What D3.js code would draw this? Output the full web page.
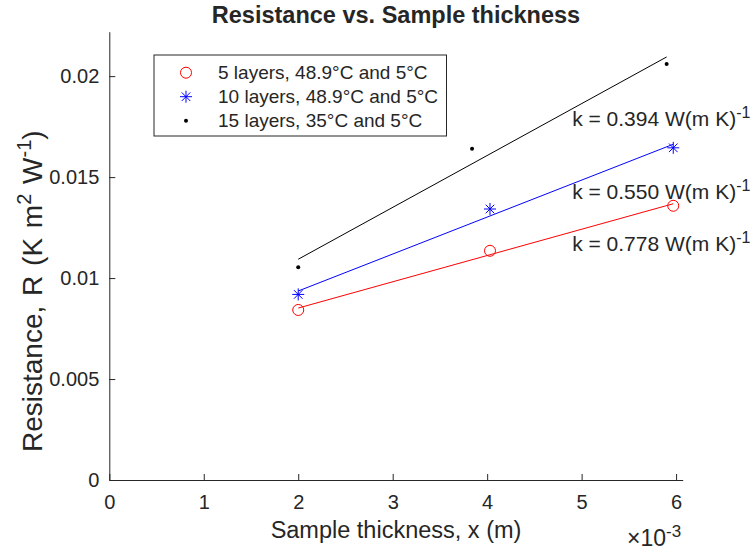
<!DOCTYPE html>
<html>
<head>
<meta charset="utf-8">
<script src="https://cdn.jsdelivr.net/npm/d3@7"></script>
<style>
  body { margin: 0; background: #fff; }
  svg text { font-family: "Liberation Sans", Arial, sans-serif; fill: #262626; }
</style>
</head>
<body>
<div id="visHolder"></div>
<script>
// thickness in m, resistance in K m^2 / W
var seriesNames = ["5 layers, 48.9°C and 5°C", "10 layers, 48.9°C and 5°C", "15 layers, 35°C and 5°C"];
var x5 = [0.00200, 0.00403, 0.00597];
var r5 = [0.00842, 0.01135, 0.01358];
var x10 = [0.00200, 0.00403, 0.00597];
var r10 = [0.00919, 0.01342, 0.01645];
var x15 = [0.00200, 0.00384, 0.00590];
var r15 = [0.01054, 0.01640, 0.02060];
var kLabels = ["0.394", "0.550", "0.778"];
var kLabelX = [0.00490, 0.00490, 0.00490];
var kLabelY = [0.01790, 0.01427, 0.01172];
var xTicks = [0, 0.001, 0.002, 0.003, 0.004, 0.005, 0.006];
var xTickLabels = ["0", "1", "2", "3", "4", "5", "6"];
var yTicks = [0, 0.005, 0.01, 0.015, 0.02];
var yTickLabels = ["0", "0.005", "0.01", "0.015", "0.02"];

var width = 754;
var height = 552;
var plotLeft = 109.3, plotRight = 682.7, plotTop = 31.7, plotBottom = 480;
var axisColor = "#262626";

var svg = d3.select("#visHolder")
  .append("svg")
  .attr("width", width)
  .attr("height", height);

var xScale = d3.scaleLinear().domain([0, 0.00607]).range([plotLeft, plotRight]);
var yScale = d3.scaleLinear().domain([0, 0.0222]).range([plotBottom, plotTop]);

var series = [
  { name: seriesNames[0], xs: x5, ys: r5, color: "#ff0000", marker: "circle" },
  { name: seriesNames[1], xs: x10, ys: r10, color: "#0000ff", marker: "star" },
  { name: seriesNames[2], xs: x15, ys: r15, color: "#000000", marker: "dot" }
];

// least squares fit, like polyfit(x, R, 1)
function fit(xs, ys) {
  var mx = d3.mean(xs), my = d3.mean(ys);
  var sxy = d3.sum(xs, (v, i) => (v - mx) * (ys[i] - my));
  var sxx = d3.sum(xs, v => (v - mx) * (v - mx));
  var m = sxy / sxx;
  return { m: m, b: my - m * mx };
}

function drawMarker(g, type, color, cx, cy) {
  if (type == "circle") {
    g.append("circle").attr("cx", cx).attr("cy", cy).attr("r", 5.5)
      .attr("fill", "none").attr("stroke", color).attr("stroke-width", 1);
  } else if (type == "star") {
    var s = 6, d = 4.3;
    var p = "M" + (cx - s) + "," + cy + "h" + (2 * s) +
      "M" + cx + "," + (cy - s) + "v" + (2 * s) +
      "M" + (cx - d) + "," + (cy - d) + "l" + (2 * d) + "," + (2 * d) +
      "M" + (cx - d) + "," + (cy + d) + "l" + (2 * d) + "," + (-2 * d);
    g.append("path").attr("d", p).attr("stroke", color).attr("stroke-width", 1).attr("fill", "none");
  } else {
    g.append("circle").attr("cx", cx).attr("cy", cy).attr("r", 2).attr("fill", color);
  }
}

// axes
var xAxis = d3.axisBottom(xScale).tickValues(xTicks)
  .tickFormat((d, i) => xTickLabels[i]).tickSizeInner(-6).tickSizeOuter(0).tickPadding(15);
var yAxis = d3.axisLeft(yScale).tickValues(yTicks)
  .tickFormat((d, i) => yTickLabels[i]).tickSizeInner(-6).tickSizeOuter(0).tickPadding(10);

var gx = svg.append("g").attr("transform", "translate(0," + plotBottom + ")").call(xAxis);
var gy = svg.append("g").attr("transform", "translate(" + plotLeft + ",0)").call(yAxis);
[gx, gy].forEach(function (g) {
  g.selectAll("path, line").attr("stroke", axisColor);
  g.selectAll("text").attr("font-size", "20px").attr("fill", axisColor)
    .attr("font-family", "Liberation Sans, Arial, sans-serif");
});

// fit lines and points
series.forEach(function (s) {
  var f = fit(s.xs, s.ys);
  var x0 = d3.min(s.xs), x1 = d3.max(s.xs);
  svg.append("line")
    .attr("x1", xScale(x0)).attr("y1", yScale(f.m * x0 + f.b))
    .attr("x2", xScale(x1)).attr("y2", yScale(f.m * x1 + f.b))
    .attr("stroke", s.color).attr("stroke-width", 1);
  var g = svg.append("g");
  s.xs.forEach(function (v, i) {
    drawMarker(g, s.marker, s.color, xScale(v), yScale(s.ys[i]));
  });
});

// k annotations
kLabels.forEach(function (k, i) {
  var t = svg.append("text")
    .attr("x", xScale(kLabelX[i])).attr("y", yScale(kLabelY[i]))
    .attr("dy", "0.35em")
    .attr("font-size", "21px")
    .attr("fill", "#000");
  t.append("tspan").text("k = " + k + " W(m K)");
  t.append("tspan").attr("baseline-shift", "super").attr("font-size", "16px").text("-1");
});

// legend
var legend = svg.append("g").attr("id", "legend");
legend.append("rect")
  .attr("x", 154).attr("y", 55).attr("width", 292.5).attr("height", 81)
  .attr("fill", "#fff").attr("stroke", axisColor).attr("stroke-width", 1);
series.forEach(function (s, i) {
  var yy = 72.7 + i * 24;
  drawMarker(legend, s.marker, s.color, 186, yy);
  legend.append("text").attr("x", 218).attr("y", yy).attr("dy", "0.35em")
    .attr("font-size", "19px").attr("fill", "#000").text(s.name);
});

// title and labels
svg.append("text")
  .attr("x", (plotLeft + plotRight) / 2).attr("y", 23)
  .attr("text-anchor", "middle").attr("font-size", "23.5px").attr("font-weight", "bold")
  .attr("fill", "#000")
  .text("Resistance vs. Sample thickness");

svg.append("text")
  .attr("x", (plotLeft + plotRight) / 2).attr("y", 538)
  .attr("text-anchor", "middle").attr("font-size", "23.5px")
  .text("Sample thickness, x (m)");

var yl = svg.append("text")
  .attr("transform", "translate(42,452) rotate(-90)")
  .attr("text-anchor", "start").attr("font-size", "28px")
  .attr("word-spacing", "2px");
yl.append("tspan").text("Resistance, R (K m");
yl.append("tspan").attr("baseline-shift", "super").attr("font-size", "20px").text("2");
yl.append("tspan").text(" W");
yl.append("tspan").attr("baseline-shift", "super").attr("font-size", "20px").text("-1");
yl.append("tspan").text(")");

var ex = svg.append("text").attr("x", 627).attr("y", 546).attr("font-size", "23px");
ex.append("tspan").text("×10");
ex.append("tspan").attr("baseline-shift", "super").attr("font-size", "17px").text("-3");
</script>
</body>
</html>
